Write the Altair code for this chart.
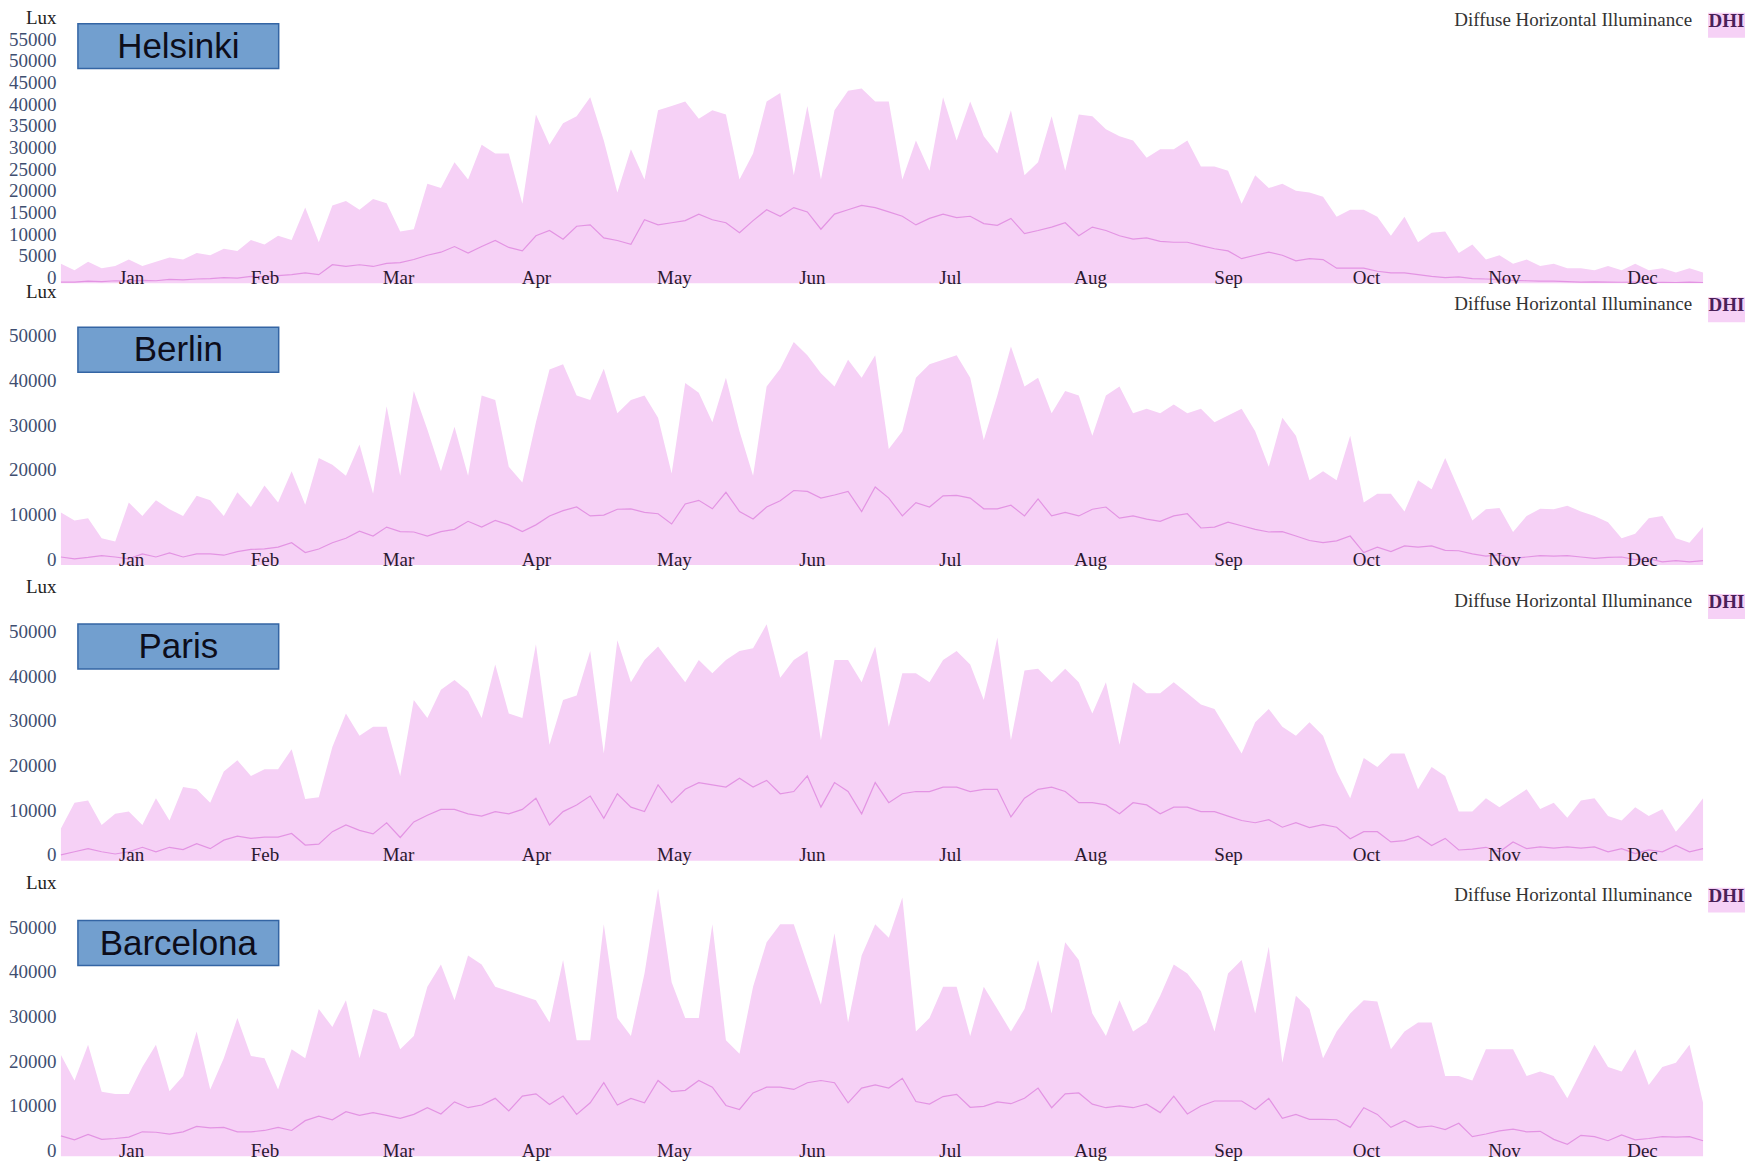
import altair as alt
import pandas as pd

# ---------------- data (in kilolux) ----------------
MONTHS = ["Jan", "Feb", "Mar", "Apr", "May", "Jun", "Jul", "Aug", "Sep", "Oct", "Nov", "Dec"]
MONTH_MID_DAYS = [15.5, 45, 74.5, 105, 135.5, 166, 196.5, 227.5, 258, 288.5, 319, 349.5]
DAYS = list(range(0, 364, 3))  # sampled day-of-year positions (0 .. 363)

CITIES = ["Helsinki", "Berlin", "Paris", "Barcelona"]

HEL_MAX = [4.5, 3, 5, 3.5, 4, 5.5, 4, 5, 6, 5.5, 7,
           6.5, 8, 7.5, 10, 9, 11, 10, 17.5, 9.5,
           18, 19, 17, 19.5, 18.5, 12, 12.5, 23, 22, 28,
           24, 32, 30, 30, 18.4, 39, 32, 37, 38.6, 43,
           33, 21, 31, 24, 40, 41, 42, 38, 40, 39, 24,
           30, 42, 44, 25, 41, 24, 40, 44.5, 45, 42,
           42, 24, 33, 26, 43, 33, 42, 34, 30, 40,
           25, 28, 38.6, 26, 39, 38.6, 35.6, 34, 33, 29,
           31, 31, 33, 27, 27, 26, 18.4, 25, 22, 23,
           21.4, 21, 20, 15.4, 17, 17, 15.4, 11, 15.4, 9.5, 11.7,
           12, 7, 9, 5.5, 6.5, 4.5, 5.5, 4, 4.5, 3.5,
           3.5, 3, 4, 3, 4.5, 3, 3.5, 2.5, 3.5, 2.5]
HEL_MEAN = [0.3, 0.3, 0.5, 0.4, 0.6, 0.5, 0.7, 0.6, 0.9, 0.8, 1.0,
            1.1, 1.3, 1.2, 1.6, 1.5, 1.8, 2.0, 2.4, 2.0,
            4.3, 3.9, 4.3, 3.9, 4.6, 4.8, 5.5, 6.5, 7.2, 8.5,
            7.0, 8.5, 9.9, 8.3, 7.5, 11, 12.2, 10.2, 13.2, 13.5,
            10.5, 9.9, 9.0, 14.7, 13.5, 14, 14.5, 16, 14.7, 14, 11.7,
            14.5, 17, 15.5, 17.5, 16.5, 12.5, 16, 17, 18, 17.5,
            16.5, 15.5, 13.5, 15, 16, 15.2, 15.5, 13.8, 13.4, 15,
            11.5, 12.2, 13, 14, 11, 13, 12.2, 11, 10.2, 10.5,
            9.7, 9.5, 9.5, 8.7, 8, 7.5, 5.7, 6.5, 7.2, 6.5,
            5.2, 5.7, 5.5, 3.5, 3.5, 3.5, 2.8, 2.4, 2.4, 2.0, 1.6,
            1.3, 1.5, 1.1, 1.0, 0.9, 0.7, 0.6, 0.5, 0.5, 0.4,
            0.3, 0.35, 0.3, 0.25, 0.3, 0.2, 0.25, 0.2, 0.3, 0.2]

BER_MAX = [11.8, 10, 10.5, 6, 5.3, 14, 11, 14.5, 12.5, 11, 15.5,
           14.5, 11, 16.3, 13, 17.8, 14, 21, 13.5, 24,
           22.5, 20, 27, 16, 35.6, 20, 39, 30.4, 21, 31,
           20, 38, 37, 22, 18.5, 32, 43.8, 45, 38, 37,
           44, 34, 37, 38, 33, 20.5, 40.8, 38.6, 32, 42, 30,
           20, 40, 44, 50, 47, 43, 40, 46, 42, 47,
           26, 30, 42, 45, 46, 47, 42, 28, 38, 49,
           40, 42, 34, 39, 38, 29, 38, 40, 34, 35,
           34, 36, 34, 35, 32, 33.5, 35, 30, 22, 33,
           29, 19, 21, 19, 29, 14, 16, 16, 12, 19, 17,
           24, 17, 10, 12.5, 12.8, 7.4, 11, 12.6, 12.5, 13.3,
           12, 11, 9.6, 6, 7, 10.5, 11, 6, 5, 8.5]
BER_MEAN = [1.8, 1.4, 1.7, 2.1, 1.8, 1.4, 2.5, 1.8, 2.7, 1.8, 2.5,
            2.5, 2.2, 3.0, 3.5, 3.6, 4.0, 5.0, 2.8, 3.6,
            5.0, 6.0, 7.6, 6.5, 8.5, 7.5, 7.4, 6.5, 7.5, 8.0,
            9.8, 8.5, 10, 9, 7.5, 9, 11, 12.2, 13, 11,
            11.2, 12.5, 12.6, 11.8, 11.5, 9.2, 13.7, 14.5, 12.6, 16.3, 12,
            10.3, 13, 14.4, 16.7, 16.5, 15, 15.7, 16.5, 12, 17.5,
            15, 11, 14, 13, 15.5, 15.6, 15, 12.6, 12.6, 13.4,
            11, 14.8, 11, 11.8, 11, 12.5, 13, 10.5, 11, 10.3,
            9.8, 11, 11.5, 8.3, 8.5, 9.6, 8.8, 8, 7.4, 7.5,
            6.5, 5.5, 5.0, 5.4, 6.5, 2.8, 4.0, 3.0, 4.3, 4.0, 4.3,
            3.3, 3.2, 2.5, 2.0, 2.3, 1.5, 1.8, 2.1, 2.0, 2.1,
            1.8, 1.5, 1.7, 1.8, 1.2, 1.4, 0.7, 1.0, 0.7, 1.0]

PAR_MAX = [7.2, 13, 13.5, 8, 10.5, 11, 8, 14, 9, 16.5, 16,
           13, 20, 22.5, 19, 20.5, 20.5, 25, 13.8, 14.2,
           25.5, 33, 28, 30, 30, 19, 36, 32, 38.3, 40.5,
           38, 32, 44, 33, 32, 48.5, 26, 36, 37, 47,
           24, 49.4, 40, 45, 48, 44, 40, 45, 42, 45, 47,
           47.6, 53, 41, 45, 47, 27, 45, 45, 40, 48,
           30, 42, 42, 40, 45, 47, 44, 36, 50, 27,
           42.6, 43, 40, 43, 40, 33, 40, 26, 40, 37.5,
           37.5, 40, 37.5, 35, 34, 29, 24, 31, 34, 30,
           28, 31, 28, 20, 14, 23, 21, 24, 24, 16, 21,
           19, 11, 11, 14, 12, 14, 16, 11.6, 13, 9.6,
           13.5, 14, 10, 9, 12, 10, 11.5, 6.5, 10, 14]
PAR_MEAN = [1.3, 2.0, 2.7, 2.0, 1.5, 2.0, 3.0, 2.0, 3.0, 2.5, 3.8,
            2.7, 4.6, 5.5, 5.0, 5.3, 5.3, 6.1, 3.5, 3.7,
            6.5, 8.0, 6.8, 6.0, 8.5, 5.2, 8.7, 10.2, 11.5, 11.5,
            10.5, 10, 11, 10.5, 11.5, 14, 8, 11, 12.5, 14.5,
            9.5, 15, 12, 11, 17, 13, 16, 17.5, 17, 16.5, 18.5,
            16.5, 18, 15, 15.5, 19, 12, 17.5, 15.5, 10.5, 17.5,
            13, 15, 15.5, 15.5, 16.5, 16.5, 15.5, 16, 16, 9.8,
            14, 16, 16.5, 15.5, 13, 13, 12.5, 10.5, 13, 12.5,
            10.5, 12, 12, 11, 11, 10, 9, 8.5, 9.2, 7.5,
            8.5, 7.4, 8.1, 7.5, 4.9, 6.5, 6.5, 4.2, 4.5, 5.5, 3.4,
            5, 2.4, 2.6, 3, 2.0, 4.2, 2.7, 3.1, 2.8, 3.1,
            2.8, 3.1, 2.0, 2.7, 1.6, 2.4, 2.0, 3.4, 2.0, 2.7]

BCN_MAX = [22.7, 17, 25, 14.5, 14, 14, 20, 25, 14.6, 18, 28,
           15, 22, 31, 22.5, 22, 15, 24, 22, 33,
           29, 35, 22, 33, 32, 24, 27, 38, 43, 35,
           45, 43, 38, 37, 36, 35, 30, 44, 26, 26,
           52, 31, 27, 41, 60, 39, 31, 31, 52, 26, 23,
           38, 48, 52, 52, 43, 34, 50, 30, 45, 52,
           49, 58, 28, 31, 38, 38, 27, 38, 33, 28,
           33, 44, 32, 48, 44, 32, 27, 35, 28, 30,
           36, 43, 41, 37, 28, 41, 44, 32, 47, 21,
           36, 33, 22, 28, 32, 35, 34.7, 24, 28, 30, 30,
           18, 18, 17, 24, 24, 24, 18, 19, 18, 13,
           19, 25, 20, 19, 24, 16, 20, 21, 25, 12]
BCN_MEAN = [4.6, 3.7, 4.9, 3.8, 4, 4.3, 5.5, 5.4, 5, 5.5, 6.7,
            6.4, 6.5, 5.5, 5.5, 5.8, 6.5, 5.8, 8, 9,
            8.2, 10, 9.2, 9.8, 9.2, 8.5, 9.4, 10.9, 9.5, 12.2,
            10.9, 11.5, 13, 10.2, 13.5, 14, 11.6, 13.5, 9.4, 12,
            16.5, 11.5, 13, 12, 17, 14.5, 14.8, 17, 15.5, 11.4, 10.5,
            14.2, 15.5, 15.5, 15, 16.5, 17, 16.5, 12, 15.3, 16,
            15.3, 17.5, 12.3, 11.7, 13.4, 13.9, 11, 11.2, 12.2, 11.8,
            13, 15.3, 10.9, 14, 14.2, 11.7, 10.9, 11.3, 10.9, 11.7,
            9.8, 13.5, 9.5, 11.3, 12.4, 12.4, 12.4, 10.5, 13, 8.5,
            9.4, 8.3, 8.3, 8.2, 6.5, 10.9, 9.4, 6.5, 8, 6.5, 6.8,
            6, 7.4, 4.4, 5, 5.7, 6.1, 5.5, 5.6, 3.8, 2.7,
            4.7, 4.4, 3.5, 4.8, 3.7, 4.0, 4.4, 4.3, 4.4, 3.5]

HEL_TICKS = [0, 5000, 10000, 15000, 20000, 25000, 30000, 35000, 40000, 45000, 50000, 55000, 60000]
OTHER_TICKS = [0, 10000, 20000, 30000, 40000, 50000, 60000]

LEGEND_TITLE = "Diffuse Horizontal Illuminance"
LEGEND_LABEL = "DHI"

# ---------------- style ----------------
SERIF = "Liberation Serif"
SANS = "Liberation Sans"
PINK = "#f6d1f6"
LINE_COLOR = "#e394e3"
BOX_FILL = "#729fcf"
BOX_STROKE = "#3465a4"
W = 1644

month_expr = "[" + ",".join("'%s'" % m for m in MONTHS) + "][round((datum.value - 15.5) / 30.4)]"


def panel(city, max_vals, mean_vals, ticks, height, box_y, leg_y):
    df = pd.DataFrame({
        "day": DAYS,
        "max": [v * 1000 for v in max_vals],
        "mean": [v * 1000 for v in mean_vals],
    })
    x_axis = alt.Axis(values=MONTH_MID_DAYS, labelExpr=month_expr, title=None,
                      domain=False, ticks=False, tickSize=0, grid=False,
                      labelFont=SERIF, labelFontSize=19, labelColor="#2a1830",
                      labelBaseline="alphabetic", labelPadding=0,
                      labelFlush=False, labelOverlap=False, zindex=1)
    y_axis = alt.Axis(values=ticks, format="d",
                      labelExpr="datum.value >= 60000 ? 'Lux' : datum.label",
                      title=None, domain=False, ticks=False, tickSize=0, grid=False,
                      labelFont=SERIF, labelFontSize=19,
                      labelColor={"condition": {"test": "datum.value >= 60000", "value": "#222222"},
                                  "value": "#3e4e70"},
                      labelBaseline="alphabetic", labelPadding=5, labelOverlap=False)
    xs = alt.Scale(domain=[0, 363], nice=False, zero=False)
    ys = alt.Scale(domain=[0, 60000], nice=False)

    base = alt.Chart(df)
    area = base.mark_area(color=PINK, interpolate="linear").encode(
        x=alt.X("day:Q", scale=xs, axis=x_axis),
        y=alt.Y("max:Q", scale=ys, axis=y_axis),
    )
    line = base.mark_line(color=LINE_COLOR, strokeWidth=1.2).encode(
        x=alt.X("day:Q", scale=xs, axis=x_axis),
        y=alt.Y("mean:Q", scale=ys, axis=y_axis),
    )

    deco = alt.Chart(pd.DataFrame({"city": [city]}))
    box = deco.mark_rect(fill=BOX_FILL, stroke=BOX_STROKE, strokeWidth=1.5).encode(
        x=alt.value(17), x2=alt.value(218), y=alt.value(box_y), y2=alt.value(box_y + 45))
    title = deco.mark_text(font=SANS, fontSize=35, color="#0d0d1a", align="center",
                           baseline="middle").encode(
        x=alt.value(117.5), y=alt.value(box_y + 23), text="city:N")
    leg_text = deco.mark_text(text=LEGEND_TITLE, font=SERIF, fontSize=19, color="#333333",
                              align="right", baseline="middle").encode(
        x=alt.value(1633), y=alt.value(leg_y))
    swatch = deco.mark_rect(fill=PINK).encode(
        x=alt.value(1649), x2=alt.value(1686), y=alt.value(leg_y - 7), y2=alt.value(leg_y + 18))
    leg_label = deco.mark_text(text=LEGEND_LABEL, font=SERIF, fontSize=19, fontWeight="bold",
                               color="#4a1f58", align="center", baseline="middle").encode(
        x=alt.value(1667.5), y=alt.value(leg_y + 1))

    return alt.layer(area, line, box, title, leg_text, swatch, leg_label).properties(
        width=W, height=height)


hel = panel(CITIES[0], HEL_MAX, HEL_MEAN, HEL_TICKS, 260, 0, -4)
ber = panel(CITIES[1], BER_MAX, BER_MEAN, OTHER_TICKS, 268, 30, 7)
par = panel(CITIES[2], PAR_MAX, PAR_MEAN, OTHER_TICKS, 268, 31, 8)
bcn = panel(CITIES[3], BCN_MAX, BCN_MEAN, OTHER_TICKS, 268, 32, 6)

lower = alt.vconcat(ber, par, bcn, spacing=28, bounds="flush")
chart = alt.vconcat(hel, lower, spacing=14, bounds="flush").properties(
    padding={"left": 0, "top": 0, "right": 0, "bottom": 0},
    background="white",
).configure_view(stroke=None)

chart.save("out.html", embed_options={"renderer": "svg", "actions": False})
